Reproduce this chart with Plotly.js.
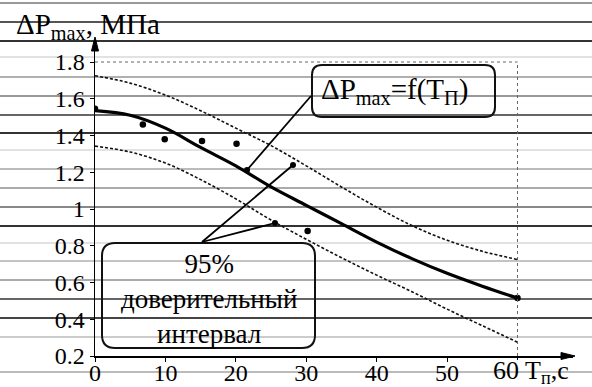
<!DOCTYPE html>
<html><head><meta charset="utf-8">
<script src="https://cdn.plot.ly/plotly-3.0.1.min.js"></script>
<style>html,body{margin:0;padding:0;background:#fff}</style>
</head><body><div id="chart" style="width:592px;height:387px"></div>
<script>
// ---- data ----
const fitT     = [0, 5, 10, 15, 20, 25, 30, 35, 40, 45, 50, 55, 60];
const fitMain  = [1.535, 1.51, 1.44, 1.335, 1.235, 1.12, 1.02, 0.92, 0.82, 0.73, 0.65, 0.58, 0.515];
const fitUpper = [1.725, 1.685, 1.62, 1.535, 1.44, 1.345, 1.235, 1.12, 1.01, 0.91, 0.83, 0.77, 0.725];
const fitLower = [1.342, 1.31, 1.25, 1.16, 1.055, 0.94, 0.835, 0.735, 0.64, 0.55, 0.455, 0.365, 0.275];
const expT = [0, 6.8, 9.9, 15.2, 20.1, 30.2, 60];
const expP = [1.545, 1.46, 1.38, 1.37, 1.355, 0.88, 0.515];
const xTickVals = [0, 10, 20, 30, 40, 50];
const xTickText = ['0', '10', '20', '30', '40', '50'];
const yTickVals = [0.2, 0.4, 0.6, 0.8, 1.0, 1.2, 1.4, 1.6, 1.8];
const yTickText = ['0.2', '0.4', '0.6', '0.8', '1', '1.2', '1.4', '1.6', '1.8'];
const yLabel = 'ΔP<sub>max</sub>, МПа';
const xLabel = '60 T<sub>п</sub>,с';
const fitLabel = 'ΔP<sub>max</sub>=f(T<sub>П</sub>)';
const ciLabel = '95%<br>доверительный<br>интервал';

// ---- geometry (pixels) ----
const L = 95, R = 573, T = 40, B = 356;
const xMax = 60 * (R - L) / (517.5 - L);
const yMax = 0.2 + 1.6 * (B - T) / (B - 62);
const P = xp => (xp - L) / (R - L);
const Q = yp => (B - yp) / (B - T);
const font = '"Liberation Serif", serif';

// scanner streaks (decoration)
const streaks = [[3,'#999'],[22,'#555'],[41,'#333'],[57,'#e2e2e2'],[77,'#b0b0b0'],[96,'#999'],
  [115,'#666'],[133,'#333'],[150,'#e2e2e2'],[169,'#bbb'],[188,'#aaa'],[207,'#888'],[226,'#333'],
  [243,'#e2e2e2'],[261,'#c4c4c4'],[280,'#aaa'],[299,'#666'],[318,'#444'],[337,'#ccc'],[372,'#bbb']];

function rrect(x0, y0, x1, y1, r) {
  const a = P(x0), b = P(x1), c = Q(y0), d = Q(y1), rx = r / (R - L), ry = r / (B - T);
  return `M ${a+rx},${c} L ${b-rx},${c} Q ${b},${c} ${b},${c-ry} L ${b},${d+ry} Q ${b},${d} ${b-rx},${d} ` +
         `L ${a+rx},${d} Q ${a},${d} ${a},${d+ry} L ${a},${c-ry} Q ${a},${c} ${a+rx},${c} Z`;
}
const tri = pts => 'M ' + pts.map(p => `${P(p[0])},${Q(p[1])}`).join(' L ') + ' Z';

const shapes = streaks.map(s => ({type:'line', xref:'paper', yref:'paper', x0:-0.3, x1:1.1,
  y0:Q(s[0]), y1:Q(s[0]), line:{color:s[1], width:2}, layer:'below'}));
shapes.push({type:'line', xref:'x', yref:'y', x0:0, x1:60, y0:1.8, y1:1.8, line:{color:'#666', width:1, dash:'dot'}});
shapes.push({type:'line', xref:'x', yref:'y', x0:60, x1:60, y0:0.2, y1:1.8, line:{color:'#666', width:1, dash:'dot'}});
shapes.push({type:'line', xref:'x', yref:'paper', x0:60, x1:60, y0:0, y1:-4 / (B - T), line:{color:'#000', width:1}});
shapes.push({type:'path', xref:'paper', yref:'paper', path:rrect(312, 65, 495, 117, 10), line:{color:'#111', width:2}});
shapes.push({type:'path', xref:'paper', yref:'paper', path:rrect(102, 243, 315, 348, 13), line:{color:'#111', width:2}});
// axis arrowheads
shapes.push({type:'path', xref:'paper', yref:'paper', path:tri([[575,B],[561,B-3.5],[561,B+3.5]]),
  fillcolor:'#000', line:{color:'#000', width:1}});
shapes.push({type:'path', xref:'paper', yref:'paper', path:tri([[L,37],[L-3.5,51],[L+3.5,51]]),
  fillcolor:'#000', line:{color:'#000', width:1}});
// pointer lines with dot heads (pixel positions of the callouts)
[[311, 96, 247, 170], [202, 242, 293, 165], [202, 242, 275, 223]].forEach(p => {
  shapes.push({type:'line', xref:'paper', yref:'paper', x0:P(p[0]), y0:Q(p[1]), x1:P(p[2]), y1:Q(p[3]),
    line:{color:'#000', width:1.8}});
  shapes.push({type:'circle', xref:'paper', yref:'paper', x0:P(p[2]-3), x1:P(p[2]+3), y0:Q(p[3]+3), y1:Q(p[3]-3),
    fillcolor:'#000', line:{color:'#000', width:0}});
});

const traces = [
  {x:fitT, y:fitUpper, mode:'lines', line:{color:'#111', width:1.6, dash:'3px,2px', shape:'spline'}},
  {x:fitT, y:fitLower, mode:'lines', line:{color:'#111', width:1.6, dash:'3px,2px', shape:'spline'}},
  {x:fitT, y:fitMain, mode:'lines', line:{color:'#000', width:3.2, shape:'spline'}},
  {x:expT, y:expP, mode:'markers', marker:{color:'#000', size:6.5}}
];

const annotations = [
  {xref:'paper', yref:'paper', x:P(14), y:Q(26), xanchor:'left', yanchor:'middle', text:yLabel,
   showarrow:false, font:{family:font, size:29, color:'#000'}},
  {xref:'paper', yref:'paper', x:P(394), y:Q(91), xanchor:'center', yanchor:'middle', text:fitLabel,
   showarrow:false, font:{family:font, size:29, color:'#000'}},
  {xref:'paper', yref:'paper', x:P(209), y:Q(299), xanchor:'center', yanchor:'middle', text:ciLabel,
   showarrow:false, font:{family:font, size:27, color:'#000'}},
  {xref:'paper', yref:'paper', x:P(491), y:Q(372), xanchor:'left', yanchor:'middle', text:xLabel,
   showarrow:false, font:{family:font, size:26, color:'#000'}}
];

const layout = {
  width:592, height:387, margin:{l:L, r:592 - R, t:T, b:387 - B},
  paper_bgcolor:'#fff', plot_bgcolor:'rgba(0,0,0,0)', showlegend:false,
  font:{family:font, color:'#000'},
  xaxis:{range:[0, xMax], showgrid:false, zeroline:false, showline:true, linecolor:'#000', linewidth:1.5,
    ticks:'outside', ticklen:4, tickcolor:'#000', tickvals:xTickVals, ticktext:xTickText,
    ticklabelstandoff:-9, tickfont:{family:font, size:24, color:'#000'}},
  yaxis:{range:[0.2, yMax], showgrid:false, zeroline:false, showline:true, linecolor:'#000', linewidth:1.5,
    ticks:'outside', ticklen:4, tickcolor:'#000', tickvals:yTickVals, ticktext:yTickText,
    tickfont:{family:font, size:24, color:'#000'}},
  shapes:shapes, annotations:annotations
};
Plotly.newPlot('chart', traces, layout, {staticPlot:true, displayModeBar:false});
</script></body></html>
